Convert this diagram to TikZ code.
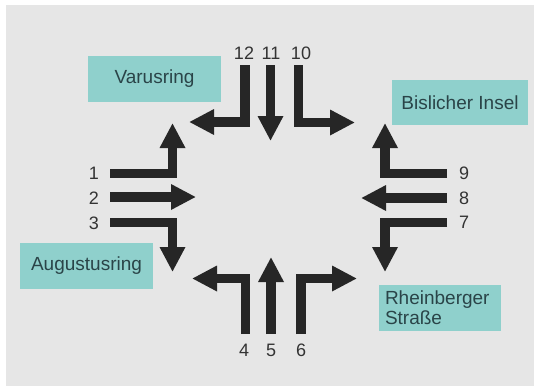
\documentclass[tikz,border=0pt]{standalone}
\usepackage{fontspec}
\setmainfont{Liberation Sans}
\usetikzlibrary{arrows.meta}
\definecolor{bgc}{HTML}{E6E6E6}
\definecolor{boxc}{HTML}{8FD0CC}
\definecolor{boxtxt}{HTML}{2A4448}
\definecolor{arrc}{HTML}{262626}
\definecolor{numc}{HTML}{333333}
\tikzset{
  arr/.style={draw=arrc, line width=9.5pt, line join=miter,
    -{Triangle[width=24pt,length=25pt]}},
  num/.style={text=numc, font=\fontsize{18}{20}\selectfont, inner sep=0pt},
  lbl/.style={fill=boxc, text=boxtxt, font=\fontsize{19}{20}\selectfont,
    inner sep=0pt}
}
\begin{document}
\begin{tikzpicture}[x=1pt,y=-1pt]
\useasboundingbox (0,0) rectangle (534,388);
\fill[bgc] (6,5) rectangle (534,386);
% boxes
\node[lbl, minimum width=133pt, minimum height=46pt] (varus) at (154.5,79) {Varusring};
\node[lbl, minimum width=136pt, minimum height=45pt] (bisl) at (460,102.5) {Bislicher Insel};
\node[lbl, minimum width=133pt, minimum height=46pt] (aug) at (86.5,266) {Augustusring};
\node[lbl, minimum width=122pt, minimum height=46pt, align=left, text width=110pt, inner xsep=6pt] (rhein) at (440,308) {Rheinberger\\Straße};
% numbers
\node[num] (n12) at (244,53) {12};
\node[num] (n11) at (271,53) {11};
\node[num] (n10) at (301,53) {10};
\node[num] (n1) at (94,173) {1};
\node[num] (n2) at (94,198) {2};
\node[num] (n3) at (94,223) {3};
\node[num] (n9) at (464,173) {9};
\node[num] (n8) at (464,198) {8};
\node[num] (n7) at (464,222) {7};
\node[num] (n4) at (244,350) {4};
\node[num] (n5) at (271,350) {5};
\node[num] (n6) at (301,350) {6};
% arrow end points
\coordinate (s12) at (245,65);  \coordinate (e12) at (189,122);
\coordinate (s11) at (270.5,65);\coordinate (e11) at (270.5,141);
\coordinate (s10) at (298.5,65);\coordinate (e10) at (355,122.5);
\coordinate (s1) at (110,173.5); \coordinate (e1) at (172.5,123);
\coordinate (s2) at (110,197);   \coordinate (e2) at (196,197);
\coordinate (s3) at (110,222.5); \coordinate (e3) at (172.5,272);
\coordinate (s9) at (447,173.5); \coordinate (e9) at (385,123);
\coordinate (s8) at (447,198);   \coordinate (e8) at (361,198);
\coordinate (s7) at (447,222.5); \coordinate (e7) at (385,272);
\coordinate (s4) at (245.5,334); \coordinate (e4) at (192,278.5);
\coordinate (s5) at (271,334);   \coordinate (e5) at (271,257);
\coordinate (s6) at (301,334);   \coordinate (e6) at (357,278.5);
% arrows
\draw[arr] (s12) |- (e12);
\draw[arr] (s11) -- (e11);
\draw[arr] (s10) |- (e10);
\draw[arr] (s1) -| (e1);
\draw[arr] (s2) -- (e2);
\draw[arr] (s3) -| (e3);
\draw[arr] (s9) -| (e9);
\draw[arr] (s8) -- (e8);
\draw[arr] (s7) -| (e7);
\draw[arr] (s4) |- (e4);
\draw[arr] (s5) -- (e5);
\draw[arr] (s6) |- (e6);
\end{tikzpicture}
\end{document}
